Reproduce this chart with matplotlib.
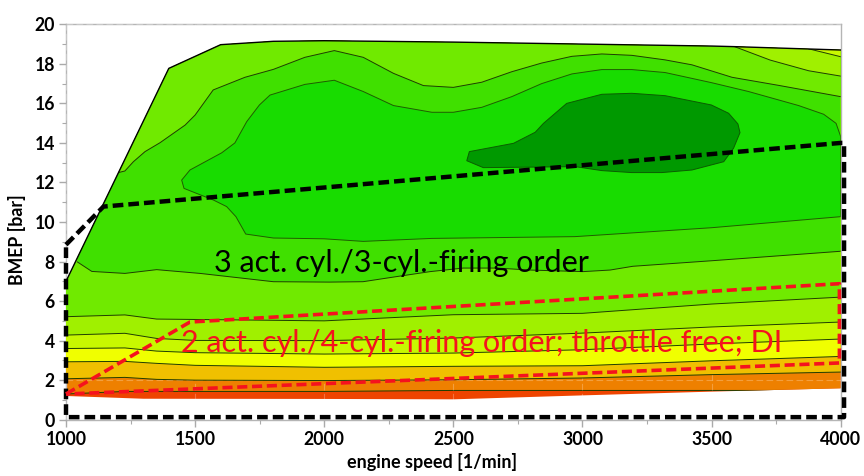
import matplotlib
matplotlib.use('Agg')
import matplotlib.pyplot as plt
from matplotlib.patches import Polygon

# everything: (engine speed, BMEP)
outline_top = [(1000, 7.0), (1398, 17.77), (1599, 18.97), (1803, 19.14), (2000, 19.17), (2500, 19.1),
               (3000, 19.0), (3500, 18.9), (3589, 18.87), (4000, 18.7)]
outline_bottom = [(1000, 1.2), (1300, 1.06), (2000, 1.05), (2500, 1.03), (3000, 1.23), (3500, 1.42), (4000, 1.59)]

speed_low = [1000, 1228, 1351, 1500, 2000, 2500, 3000, 3500, 4000]
level_1 = [1.3, 1.43, 1.43, 1.43, 1.43, 1.48, 1.48, 1.48, 1.48]
level_2 = [2.07, 2.14, 2.04, 2.0, 1.98, 2.02, 2.11, 2.28, 2.41]
level_3 = [2.93, 2.95, 2.85, 2.75, 2.65, 2.7, 2.73, 2.98, 3.2]
level_4 = [3.6, 3.63, 3.47, 3.39, 3.32, 3.37, 3.54, 3.83, 4.08]
level_5 = [4.28, 4.37, 4.11, 4.01, 4.0, 4.13, 4.38, 4.69, 4.94]
level_6 = [5.21, 5.3, 5.09, 5.07, 5.0, 5.31, 5.38, 5.85, 6.2]

level_7 = [(1044, 7.98), (1100, 7.5), (1228, 7.4), (1351, 7.59), (1519, 7.4), (1803, 6.98), (2019, 6.96),
           (2150, 6.98), (2281, 7.24), (2410, 7.49), (2538, 7.67), (2668, 7.67), (2796, 7.57), (3002, 7.49),
           (3107, 7.57), (3195, 7.76), (3500, 8.04), (4000, 8.52)]
level_8 = [(4000, 14.32), (3982, 14.99), (3934, 15.45), (3837, 15.89), (3643, 16.6), (3499, 17.05), (3320, 17.56),
           (3191, 17.71), (3075, 17.71), (2959, 17.49), (2842, 17.0), (2726, 16.34), (2610, 15.8), (2500, 15.55),
           (2417, 15.55), (2268, 15.89), (2151, 16.6), (2039, 17.17), (1925, 16.96), (1790, 16.42), (1749, 15.92),
           (1700, 15.08), (1654, 14.0), (1603, 13.5), (1480, 12.63), (1448, 12.12), (1457, 11.7), (1571, 11.11),
           (1622, 10.78), (1658, 10.27), (1696, 9.39), (1803, 9.19), (2000, 9.15), (2151, 9.02), (2417, 9.17),
           (2971, 9.26), (3499, 9.71), (4000, 10.27)]
level_9 = [(1203, 12.5), (1228, 12.58), (1261, 13.05), (1306, 13.56), (1364, 14.01), (1461, 14.9), (1500, 15.41),
           (1570, 16.68), (1693, 17.32), (1803, 17.72), (1925, 18.33), (2039, 18.67), (2151, 18.33), (2268, 17.52),
           (2384, 16.9), (2500, 16.81), (2610, 17.07), (2726, 17.6), (2842, 18.04), (2959, 18.38), (3075, 18.5),
           (3191, 18.43), (3320, 18.2), (3424, 17.95), (3579, 17.32), (3760, 16.91), (4000, 16.34)]
level_10 = [(3589, 18.87), (3727, 18.19), (3876, 17.65), (4000, 17.38)]
level_11 = [(3876, 18.76), (4000, 18.36)]
island = [(2552, 13.1), (2562, 13.56), (2733, 13.98), (2817, 14.54), (2849, 14.99), (2939, 16.0), (3075, 16.46),
          (3191, 16.51), (3320, 16.39), (3499, 15.92), (3566, 15.5), (3602, 14.96), (3610, 14.52), (3585, 13.73),
          (3547, 13.05), (3424, 12.63), (3307, 12.5), (3191, 12.5), (3075, 12.6), (2972, 12.8), (2616, 12.75)]

black_region = [(1000, 8.85), (1145, 10.78), (4000, 14.0), (4013, 14.0), (4013, 0.13), (1000, 0.13), (1000, 8.85)]
red_region = [(1000, 1.3), (1480, 4.94), (3995, 6.88), (3995, 2.87), (1000, 1.3)]

low_colors = ['#EE8000', '#F0C000', '#F0FF00', '#C8F800', '#A0F000', '#70EA00']
base_color = '#EE4400'
red = '#F5121E'

plt.rcParams['font.family'] = ['Lato', 'DejaVu Sans']

fig = plt.figure(figsize=(8.64, 4.76), dpi=100)
ax = fig.add_axes([66 / 864, 1 - 419.7 / 476, 774.7 / 864, 395.4 / 476])
ax.set_xlim(1000, 4000)
ax.set_ylim(0, 20)

envelope = Polygon(outline_top + outline_bottom[::-1], closed=True, fc=base_color, ec='none', zorder=1)
ax.add_patch(envelope)


def band(points, color, z):
    # colour everything above a contour, the envelope cuts it to shape
    poly = Polygon(points + [(points[-1][0], 25), (points[0][0], 25)], closed=True, fc=color, ec='none', zorder=z)
    ax.add_patch(poly)
    poly.set_clip_path(envelope)
    xs = [p[0] for p in points]
    ys = [p[1] for p in points]
    ln, = ax.plot(xs, ys, color='#1f3d00', lw=0.7, zorder=z + 0.5)
    ln.set_clip_path(envelope)


low_levels = [level_1, level_2, level_3, level_4, level_5, level_6]
for i in range(6):
    band(list(zip(speed_low, low_levels[i])), low_colors[i], 2 + i)

band(level_7, '#40E000', 10)
band(level_9, '#70EA00', 11)
band(level_10, '#A0F000', 12)
band(level_11, '#C8F800', 13)

closed_8 = Polygon(level_8, closed=True, fc='#18DC00', ec='#1f5d00', lw=0.7, zorder=14)
ax.add_patch(closed_8)
closed_8.set_clip_path(envelope)
ax.add_patch(Polygon(island, closed=True, fc='#009900', ec='#0b5d00', lw=0.7, zorder=15))

# outline on top of the bands, only along the full-load side
ax.plot([p[0] for p in outline_top], [p[1] for p in outline_top], color='black', lw=1.0, zorder=16)

ax.set_axisbelow(False)
ax.grid(True, color='white', alpha=0.25, lw=0.8, ls=(0, (6, 3)), zorder=17)

ax.set_xticks([1000, 1500, 2000, 2500, 3000, 3500, 4000])
ax.set_yticks(range(0, 21, 2))
ax.set_xticks([1250, 1750, 2250, 2750, 3250, 3750], minor=True)
ax.set_yticks(range(1, 20, 2), minor=True)
ax.tick_params(axis='both', which='major', labelsize=12.7, length=5, color='#aaaaaa', width=1, pad=3)
ax.tick_params(axis='both', which='minor', length=3, color='#aaaaaa', width=0.8)
for lab in ax.get_xticklabels() + ax.get_yticklabels():
    lab.set_fontweight('bold')
for s in ax.spines.values():
    s.set_color('#b5b5b5')
    s.set_linewidth(1.0)

ax.set_xlabel('engine speed [1/min]', fontsize=13, fontweight='bold')
ax.set_ylabel('BMEP [bar]', fontsize=12.8, fontweight='bold')
ax.xaxis.set_label_coords(0.472, -0.085)
ax.yaxis.set_label_coords(-0.052, 0.455)

ax.plot([p[0] for p in black_region], [p[1] for p in black_region], color='black', lw=3.2,
        ls=(0, (2.4, 1.13)), zorder=20, clip_on=False)
ax.plot([p[0] for p in red_region], [p[1] for p in red_region], color=red, lw=2.6,
        ls=(0, (2.8, 1.3)), zorder=21, clip_on=False)

ax.text(1574, 7.95, '3 act. cyl./3-cyl.-firing order', fontsize=22, color='black', ha='left', va='center', zorder=22)
ax.text(1445, 3.9, '2 act. cyl./4-cyl.-firing order; throttle free; DI', fontsize=22, color=red,
        ha='left', va='center', zorder=22)

fig.savefig('out.png', dpi=100)
